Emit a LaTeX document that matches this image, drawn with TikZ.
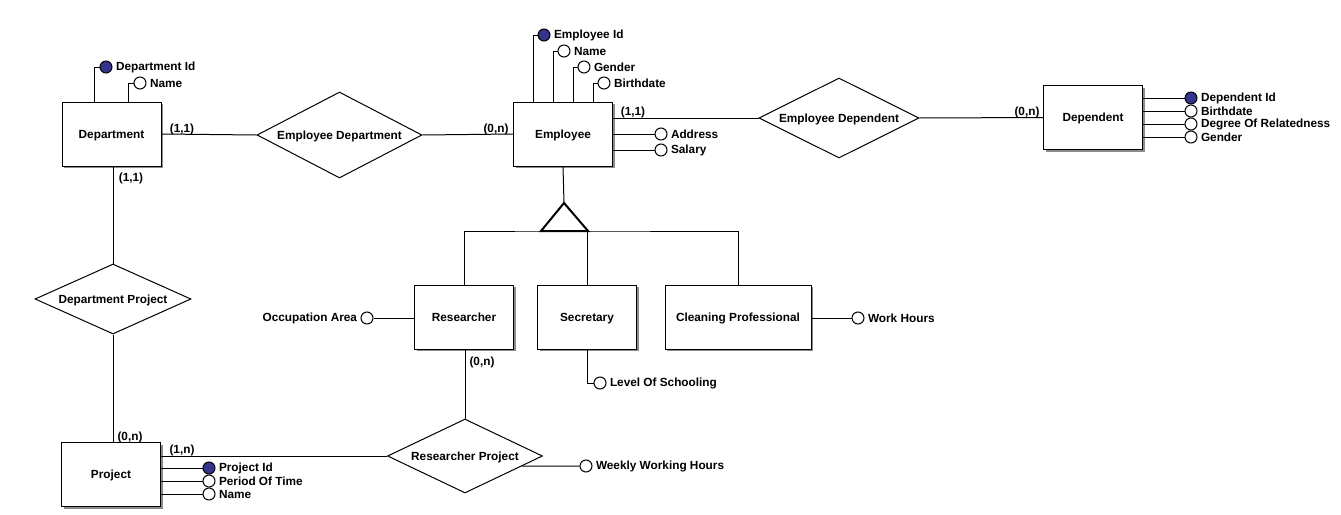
\documentclass[tikz,border=0pt]{standalone}
\usepackage{fontspec}
\setmainfont{Liberation Sans}
\usetikzlibrary{shapes.geometric,shadows,calc}
\definecolor{keyblue}{RGB}{52,52,140}
\begin{document}
\begin{tikzpicture}[x=1pt,y=-1pt, line width=1pt,
  every node/.style={font=\bfseries\fontsize{11.8}{14}\selectfont},
  entity/.style={draw, fill=white, minimum width=99pt, minimum height=64pt, inner sep=0,
    text height=8.5pt, text depth=0pt,
    drop shadow={shadow xshift=2pt, shadow yshift=-2pt, opacity=1, fill=black!45}},
  rel/.style={draw, fill=white, shape=diamond, aspect=2, inner sep=0, text height=8.5pt, text depth=0pt},
  attr/.style={circle, draw, fill=white, minimum size=12pt, inner sep=0},
  key/.style={attr, fill=keyblue},
  lab/.style={inner sep=0, xshift=3pt},
  labl/.style={inner sep=0, xshift=-3pt},
  card/.style={inner sep=0}]
\useasboundingbox (0,0) rectangle (1341,514);

\coordinate (isa) at (564,203);
\coordinate (isaL) at (541,231);
\coordinate (isaR) at (588,231);
\coordinate (bar) at (564,231);

% entities
\node[entity] (dept) at (111.5,134) {Department};
\node[entity] (emp) at (563,134) {Employee};
\node[entity] (dep) at (1093,117.5) {Dependent};
\node[entity] (res) at (464,317) {Researcher};
\node[entity] (sec) at (587,317) {Secretary};
\node[entity, minimum width=146pt] (clean) at (738,317) {Cleaning Professional};
\node[entity] (proj) at (111,474.5) {Project};

% relationships
\node[rel, minimum width=165pt, minimum height=86pt] (ed) at (339.5,135) {Employee Department};
\node[rel, minimum width=160pt, minimum height=80pt] (edep) at (839,118) {Employee Dependent};
\node[rel, minimum width=156pt, minimum height=70pt] (dp) at (113,299) {Department Project};
\node[rel, minimum width=155pt, minimum height=74pt] (rp) at (465,456) {Researcher Project};

% relationship lines
\draw (dept.east) -- (ed.west);
\draw (ed.east) -- (emp.west);
\draw (edep.west -| emp.east) -- (edep.west);
\draw (edep.east) -- (dep.west);
\draw (dp.north) -- (dp.north |- dept.south);
\draw (dp.south) -- (dp.south |- proj.north);
\draw (rp.west -| proj.east) -- (rp.west);
\draw (rp.north) -- (rp.north |- res.south);

% specialization
\draw (emp.south) -- (isa);
\draw (res.north) |- (bar) -| (clean.north);
\draw (sec.north) -- (sec.north |- bar);
\draw[line width=2pt, line join=miter] (isaL) -- (isa) -- (isaR) -- cycle;

% Department attributes
\node[key, label={[lab]right:Department Id}] (deptid) at (106,67) {};
\node[attr, label={[lab]right:Name}] (deptname) at (140,83) {};
\draw (deptid.west) -| ($(dept.north west)+(33,0)$);
\draw (deptname.west) -| ($(dept.north west)+(67,0)$);

% Employee attributes
\node[key, label={[lab]right:Employee Id}] (empid) at (544,35) {};
\node[attr, label={[lab]right:Name}] (empname) at (564,51) {};
\node[attr, label={[lab]right:Gender}] (empgender) at (584,67) {};
\node[attr, label={[lab]right:Birthdate}] (empbirth) at (604,83) {};
\node[attr, label={[lab]right:Address}] (empaddr) at (661,134) {};
\node[attr, label={[lab]right:Salary}] (empsal) at (661,150) {};
\draw (empid.west) -| ($(emp.north west)+(20,0)$);
\draw (empname.west) -| ($(emp.north west)+(40,0)$);
\draw (empgender.west) -| ($(emp.north west)+(60,0)$);
\draw (empbirth.west) -| ($(emp.north west)+(80,0)$);
\draw (empaddr.west -| emp.east) -- (empaddr.west);
\draw (empsal.west -| emp.east) -- (empsal.west);

% Dependent attributes
\node[key, label={[lab]right:Dependent Id}] (depid) at (1191,98) {};
\node[attr, label={[lab]right:Birthdate}] (depbirth) at (1191,111) {};
\node[attr, label={[lab]right:Degree Of Relatedness}] (depdeg) at (1191,124) {};
\node[attr, label={[lab]right:Gender}] (depgender) at (1191,137) {};
\draw (depid.west -| dep.east) -- (depid.west);
\draw (depbirth.west -| dep.east) -- (depbirth.west);
\draw (depdeg.west -| dep.east) -- (depdeg.west);
\draw (depgender.west -| dep.east) -- (depgender.west);

% Subclass attributes
\node[attr, label={[labl]left:Occupation Area}] (occ) at (367,318) {};
\draw (occ.east) -- (occ.east -| res.west);
\node[attr, label={[lab]right:Work Hours}] (wh) at (858,318) {};
\draw (wh.west -| clean.east) -- (wh.west);
\node[attr, label={[lab]right:Level Of Schooling}] (ls) at (600,383) {};
\draw (sec.south) |- (ls.west);

% Researcher Project attribute
\node[attr, label={[lab]right:Weekly Working Hours}] (wwh) at (586,466) {};
\draw (rp.-10) -- (wwh.west);

% Project attributes
\node[key, label={[lab]right:Project Id}] (pid) at (209,468) {};
\node[attr, label={[lab]right:Period Of Time}] (pperiod) at (209,481) {};
\node[attr, label={[lab]right:Name}] (pname) at (209,494) {};
\draw (pid.west -| proj.east) -- (pid.west);
\draw (pperiod.west -| proj.east) -- (pperiod.west);
\draw (pname.west -| proj.east) -- (pname.west);

% cardinalities
\node[card] (c1) at (182,129) {(1,1)};
\node[card] (c2) at (496,129) {(0,n)};
\node[card] (c3) at (633,112) {(1,1)};
\node[card] (c4) at (1027,112) {(0,n)};
\node[card] (c5) at (131,178) {(1,1)};
\node[card] (c6) at (130,437) {(0,n)};
\node[card] (c7) at (182,450) {(1,n)};
\node[card] (c8) at (482,362) {(0,n)};
\end{tikzpicture}
\end{document}
